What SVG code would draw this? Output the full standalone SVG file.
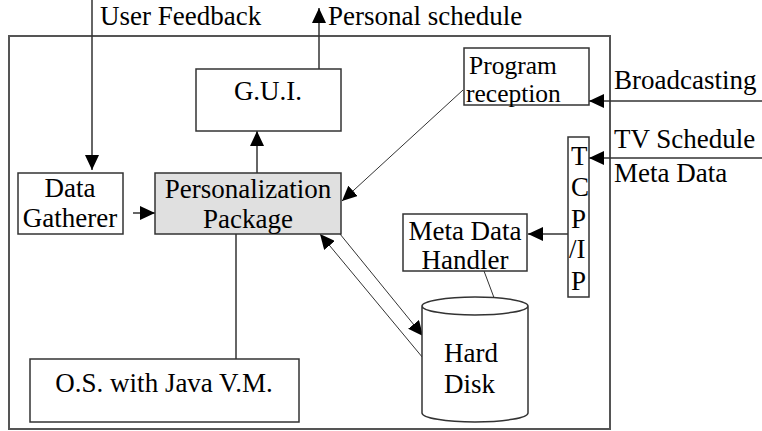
<svg xmlns="http://www.w3.org/2000/svg" width="762" height="431" viewBox="0 0 762 431" font-family="Liberation Serif, Tinos, Times New Roman, DejaVu Serif, serif">
<defs>
<marker id="ah" markerUnits="userSpaceOnUse" markerWidth="16" markerHeight="14" refX="15" refY="7" orient="auto">
<path d="M0,0 L15,7 L0,14 z" fill="#000"/>
</marker>
<style>
text{font-family:'Liberation Serif',Tinos,'Times New Roman','DejaVu Serif',serif;font-size:27px;fill:#000}
.box{fill:#fff;stroke:#333;stroke-width:1.5}
.c{text-anchor:middle}
.ln{stroke:#333;stroke-width:1.5;fill:none}
.th{stroke:#333;stroke-width:1;fill:none}
.sm{font-size:25.5px}
</style>
</defs>
<rect width="762" height="431" fill="#fff"/>
<g id="frame"><rect x="9" y="36" width="601" height="393" fill="none" stroke="#555" stroke-width="2"/></g>
<g id="connectors">
<line class="ln" x1="92" y1="0" x2="92" y2="170" marker-end="url(#ah)"/>
<line class="ln" x1="319" y1="69" x2="319" y2="8" marker-end="url(#ah)"/>
<line class="ln" x1="257" y1="173" x2="257" y2="131" marker-end="url(#ah)"/>
<line class="ln" x1="133" y1="213" x2="155" y2="213" marker-end="url(#ah)"/>
<line class="th" x1="463" y1="90" x2="342" y2="201" marker-end="url(#ah)"/>
<line class="ln" x1="762" y1="101" x2="589" y2="101" marker-end="url(#ah)"/>
<line class="ln" x1="762" y1="158" x2="589" y2="158" marker-end="url(#ah)"/>
<line class="ln" x1="568" y1="234" x2="528" y2="234" marker-end="url(#ah)"/>
<line class="th" x1="484" y1="271" x2="505" y2="327" marker-end="url(#ah)"/>
<line class="th" x1="340" y1="234" x2="423" y2="336" marker-end="url(#ah)"/>
<line class="th" x1="423" y1="358" x2="320" y2="234" marker-end="url(#ah)"/>
<line class="ln" x1="236" y1="234" x2="236" y2="359"/>
</g>
<g id="labels">
<text x="100" y="25">User Feedback</text>
<text x="328" y="25">Personal schedule</text>
<text x="614" y="89">Broadcasting</text>
<text x="614" y="148">TV Schedule</text>
<text x="614" y="182">Meta Data</text>
</g>
<g id="gui"><rect class="box" x="196" y="69" width="145" height="62"/><text class="c" x="268" y="100">G.U.I.</text></g>
<g id="data-gatherer"><rect class="box" x="18" y="173" width="105" height="61"/><text class="c" x="70" y="197">Data</text><text class="c" x="70" y="227">Gatherer</text></g>
<g id="personalization"><rect class="box" x="155" y="173" width="186" height="61" style="fill:#e0e0e0"/><text class="c" x="248" y="198">Personalization</text><text class="c" x="248" y="228">Package</text></g>
<g id="program-reception"><rect class="box" x="464" y="48" width="125" height="57"/><text class="sm" x="469" y="74">Program</text><text class="sm" x="466" y="102">reception</text></g>
<g id="tcpip"><rect class="box" x="568" y="137" width="21" height="160"/><text x="571" y="165">T</text><text x="571" y="196">C</text><text x="571" y="228">P</text><text x="569" y="258">/I</text><text x="571" y="290">P</text></g>
<g id="meta-data-handler"><rect class="box" x="403" y="214" width="124" height="57"/><text class="c" x="465" y="240">Meta Data</text><text class="c" x="465" y="269">Handler</text></g>
<g id="hard-disk"><path class="box" d="M422,306 L422,413 A53,9 0 0 0 528,413 L528,306 A53,9 0 0 0 422,306 A53,9 0 0 0 528,306"/><text x="444" y="362">Hard</text><text x="444" y="393">Disk</text></g>
<g id="os"><rect class="box" x="30" y="359" width="269" height="63"/><text class="c" x="164" y="392">O.S. with Java V.M.</text></g>
</svg>
